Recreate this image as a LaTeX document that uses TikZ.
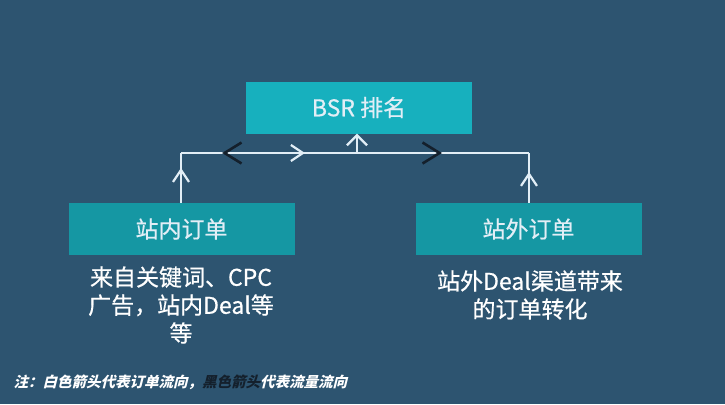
\documentclass[tikz,border=0pt]{standalone}
\usepackage{fontspec}
\setmainfont{Noto Sans CJK SC}[FakeBold=0.6]
\newfontfamily\notefont{Noto Sans CJK SC}[BoldFeatures={FakeSlant=0.25}]
\usetikzlibrary{arrows.meta,decorations.markings,positioning}
\definecolor{bgblue}{HTML}{2D5470}
\definecolor{tealtop}{HTML}{17B0BE}
\definecolor{tealside}{HTML}{1597A3}
\definecolor{linewhite}{HTML}{E2EEF6}
\definecolor{notedark}{HTML}{14202C}
\tikzset{
  whitetip/.tip={Straight Barb[length=12pt,width=16pt,line width=2.2pt]},
  blacktip/.tip={Straight Barb[length=17pt,width=21pt,line width=2.6pt]}}

\begin{document}
\begin{tikzpicture}[x=1pt,y=-1pt,
  box/.style={fill=#1,text=linewhite,minimum width=226pt,minimum height=52pt,
    inner sep=0pt,font=\fontsize{23}{26}\selectfont},
  desc/.style={text=white,align=center,font=\fontsize{23}{28}\selectfont},
  flow/.style={draw=linewhite,line width=1.6pt}]
\fill[bgblue] (0,0) rectangle (725,404);
\useasboundingbox (0,0) rectangle (725,404);
% boxes
\node[box=tealtop] (bsr) at (359,107.5) {BSR 排名};
\node[box=tealside] (zn) at (181.5,229) {站内订单};
\node[box=tealside] (zw) at (528.5,229) {站外订单};
% descriptions
\node[desc] (zndesc) at (181,305) {来自关键词、CPC\\广告，站内Deal等\\等};
\node[desc] (zwdesc) at (530,295) {站外Deal渠道带来\\的订单转化};
% junctions
\coordinate (jl) at (181,153);
\coordinate (jr) at (529,153);
\coordinate (jm) at (357,153);
% order flow (white) and traffic flow (black)
\draw[flow,decoration={markings,mark=at position 0.7 with {\arrow[linewhite]{whitetip}}},
  postaction={decorate}] (zn.north -| jl) -- (jl);
\draw[flow,decoration={markings,mark=at position 0.62 with {\arrow[linewhite]{whitetip}}},
  postaction={decorate}] (zw.north -| jr) -- (jr);
\draw[flow,decoration={markings,
    mark=at position 0.118 with {\arrowreversed[notedark]{blacktip}},
    mark=at position 0.356 with {\arrow[linewhite]{whitetip}},
    mark=at position 0.75 with {\arrow[notedark]{blacktip}}},
  postaction={decorate}] (jl) -- (jr);
\draw[flow,-{Straight Barb[length=10pt,width=20pt,line width=2.2pt]}] (jm) -- (jm |- bsr.south);
% note
\node[anchor=west,text=white,font=\notefont\bfseries\fontsize{14.5}{16}\selectfont] (note)
  at (10,382) {注：白色箭头代表订单流向，\textcolor{notedark}{黑色箭头}代表流量流向};
\end{tikzpicture}
\end{document}
